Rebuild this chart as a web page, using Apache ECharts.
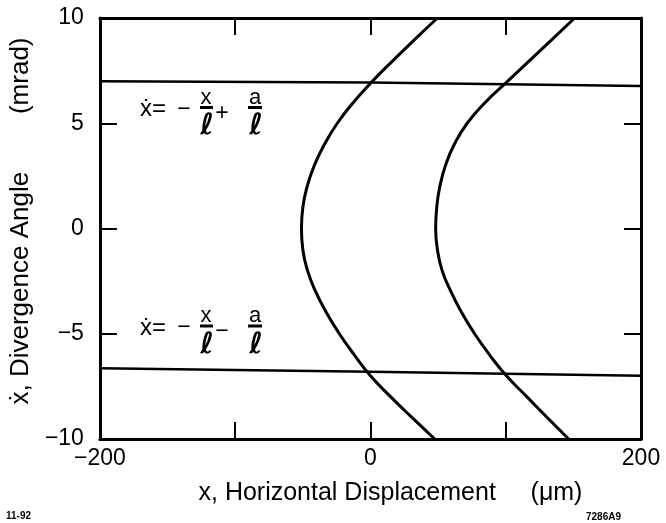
<!DOCTYPE html>
<html>
<head>
<meta charset="utf-8">
<script src="https://cdn.jsdelivr.net/npm/echarts@6/dist/echarts.min.js"></script>
<style>
  html, body { margin: 0; background: #fff; }
  #main { width: 666px; height: 523px; }
</style>
</head>
<body>
<div id="main"></div>
<script>
// values: x in µm, x' in mrad
const curveY = [10, 9, 8, 7, 6, 5, 4, 3, 2, 1, 0, -1, -2, -3, -4, -5, -6, -7, -8, -9, -10]
const leftCurveX = [49.5, 33, 17, 1.5, -12.5, -24.5, -34, -41.5, -46.8, -50, -51, -50, -46.5, -40.5, -32.5, -23, -12, 0, 15, 31, 47.5]
const rightCurveX = [151, 134.5, 118, 101.5, 85, 71.5, 62, 55.5, 51.3, 49, 48.2, 49.5, 53, 59.5, 67.5, 77, 88, 100.5, 115.7, 131, 146.5]
const upperLineX = [-200, 0, 200]
const upperLineY = [7.0, 6.93, 6.77]
const lowerLineX = [-200, 0, 200]
const lowerLineY = [-6.64, -6.8, -7.0]

const xTickLabels = ['\u2212200', '', '0', '', '200']
const yTickLabels = ['\u221210', '\u22125', '0', '5', '10']

const FONT = '"Liberation Sans", Arial, "DejaVu Sans", sans-serif'
const pairs = (xs, ys) => xs.map((x, i) => [x, ys[i]])

// equation annotation:  x' = - x/l (+|-) a/l
function equation(cy, op) {
  const t = (text, x, y, size, extra) => ({
    type: 'text', x: x, y: y,
    style: Object.assign({ text: text, font: size + 'px ' + FONT, fill: '#000', align: 'center', verticalAlign: 'middle' }, extra || {})
  })
  const bar = (x1, x2, y) => ({ type: 'line', z: 10, shape: { x1: x1, y1: y, x2: x2, y2: y }, style: { stroke: '#000', lineWidth: 3 } })
  const ell = (x, y) => ({
    type: 'text', x: x, y: y,
    style: { text: '\u2113', font: 'bold 29px "DejaVu Sans", sans-serif', fill: '#000', align: 'center', verticalAlign: 'middle' }
  })
  return [
    t('\u1e8b=', 140, cy - 2, 24, { align: 'left' }),
    t('\u2212', 184, cy - 2, 23),
    t('x', 206, cy - 14, 22),
    bar(200, 213, cy - 4),
    ell(207, cy + 15),
    t(op, 222, cy + 2, 23),
    t('a', 255, cy - 14, 22),
    bar(248, 262, cy - 4),
    ell(256, cy + 15)
  ]
}

const axisCommon = {
  type: 'value',
  axisLine: { onZero: false, lineStyle: { color: '#000', width: 3 } },
  axisTick: { inside: true, length: 17, lineStyle: { color: '#000', width: 2 } },
  splitLine: { show: false }
}

const option = {
  animation: false,
  backgroundColor: '#fff',
  grid: { left: 98, right: 25, top: 18, bottom: 84 },
  xAxis: [
    Object.assign({}, axisCommon, {
      min: -200, max: 200, interval: 100, position: 'bottom',
      axisLabel: { margin: 8, fontSize: 23, color: '#000', fontFamily: FONT, formatter: v => xTickLabels[Math.round((v + 200) / 100)] },
      name: 'x, Horizontal Displacement     (\u03bcm)',
      nameLocation: 'middle', nameGap: 42,
      nameTextStyle: { fontSize: 25, color: '#000', fontFamily: FONT, padding: [0, 0, 0, 40] }
    }),
    Object.assign({}, axisCommon, {
      min: -200, max: 200, interval: 100, position: 'top',
      axisLabel: { show: false }
    })
  ],
  yAxis: [
    Object.assign({}, axisCommon, {
      min: -10, max: 10, interval: 5, position: 'left',
      axisLabel: { margin: 16, fontSize: 23, color: '#000', fontFamily: FONT, formatter: v => yTickLabels[Math.round((v + 10) / 5)] },
      name: '\u1e8b, Divergence Angle        (mrad)',
      nameLocation: 'middle', nameGap: 59,
      nameTextStyle: { fontSize: 26, color: '#000', fontFamily: FONT, padding: [0, 0, 0, 15] }
    }),
    Object.assign({}, axisCommon, {
      min: -10, max: 10, interval: 5, position: 'right',
      axisLabel: { show: false }
    })
  ],
  graphic: [
    { type: 'group', children: equation(111.5, '+') },
    { type: 'group', children: equation(330, '\u2212') },
    { type: 'text', left: 6, top: 511, style: { text: '11-92', font: 'bold 10px ' + FONT, fill: '#000' } },
    { type: 'text', left: 586, top: 512, style: { text: '7286A9', font: 'bold 10px ' + FONT, fill: '#000' } }
  ],
  series: [
    { type: 'line', data: pairs(leftCurveX, curveY), smooth: 0.5, showSymbol: false, lineStyle: { color: '#000', width: 3 } },
    { type: 'line', data: pairs(rightCurveX, curveY), smooth: 0.5, showSymbol: false, lineStyle: { color: '#000', width: 3 } },
    { type: 'line', data: pairs(upperLineX, upperLineY), showSymbol: false, lineStyle: { color: '#000', width: 2.5 } },
    { type: 'line', data: pairs(lowerLineX, lowerLineY), showSymbol: false, lineStyle: { color: '#000', width: 2.5 } }
  ]
}

echarts.init(document.getElementById('main')).setOption(option)
</script>
</body>
</html>
